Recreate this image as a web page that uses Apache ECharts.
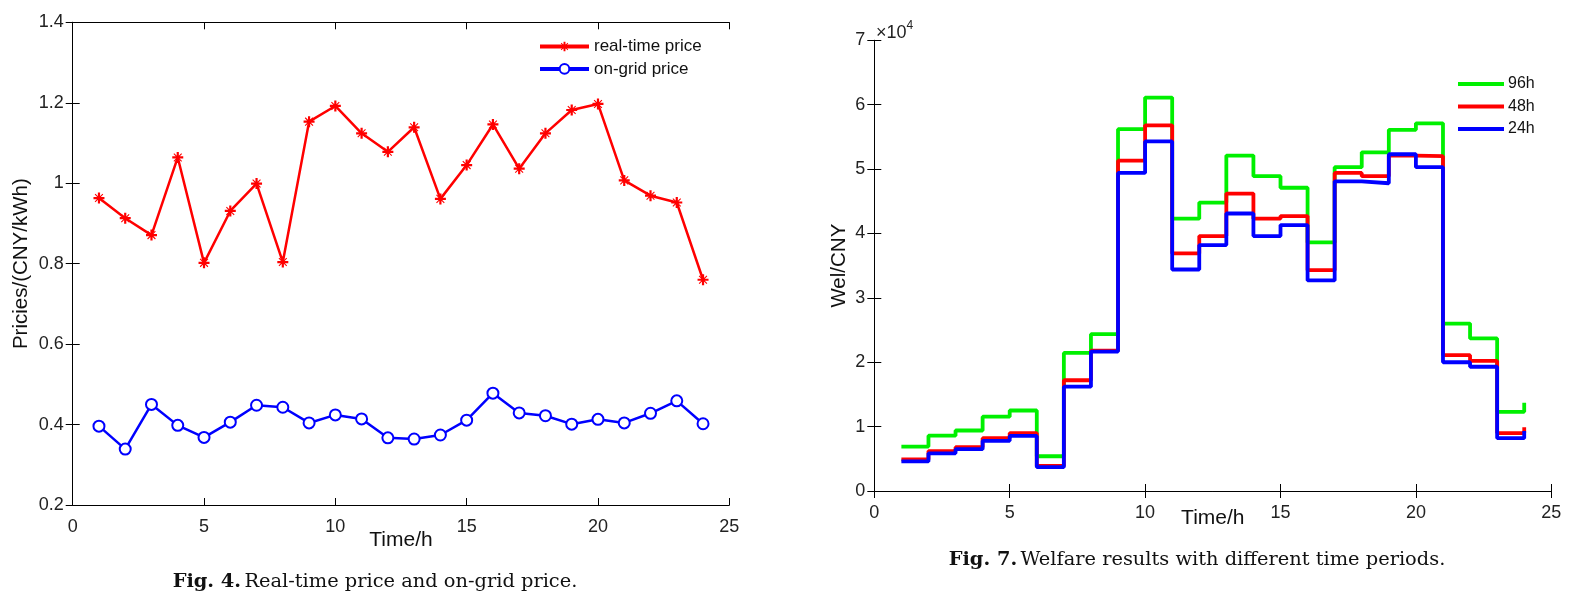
<!DOCTYPE html>
<html>
<head>
<meta charset="utf-8">
<script src="https://cdn.jsdelivr.net/npm/echarts@6/dist/echarts.min.js"></script>
<style>
html,body{margin:0;padding:0;background:#fff;}
#c{width:1584px;height:596px;}
</style>
</head>
<body>
<div id="c"></div>
<script>
// ---- data ----
const hours = [1,2,3,4,5,6,7,8,9,10,11,12,13,14,15,16,17,18,19,20,21,22,23,24];
const realTimePrice = [0.963,0.913,0.871,1.064,0.802,0.931,0.999,0.804,1.153,1.192,1.124,1.078,1.139,0.961,1.045,1.146,1.036,1.124,1.182,1.197,1.007,0.969,0.952,0.760];
const onGridPrice = [0.396,0.339,0.450,0.398,0.368,0.406,0.448,0.443,0.404,0.424,0.414,0.367,0.364,0.374,0.411,0.478,0.429,0.422,0.401,0.413,0.404,0.428,0.459,0.402];
const welfare96h = [6900,8600,9400,11550,12500,5400,21450,24350,56200,61100,42300,44800,52100,48900,47100,38600,50300,52600,56100,57100,26000,23700,12300,13700];
const welfare48h = [4900,6200,6800,8200,9000,3900,17200,21800,51300,56800,36900,39600,46200,42300,42700,34300,49400,48900,52100,52000,21100,20200,9000,9900];
const welfare24h = [4600,5850,6500,7800,8550,3700,16200,21650,49400,54300,34400,38200,43100,39600,41300,32700,48100,47800,52300,50300,20000,19300,8200,9300];
const priceTicks = ['0.2','0.4','0.6','0.8','1','1.2','1.4'];

const pair = (xs, ys) => xs.map((x, i) => [x, ys[i]]);
const FONT = "'Liberation Sans', Arial, sans-serif";
const SERIF = "'DejaVu Serif', 'Liberation Serif', serif";

const asterisk = 'path://M0 8L20 8L20 12L0 12Z M8 0L12 0L12 20L8 20Z M2.2 3.6L3.6 2.2L17.8 16.4L16.4 17.8Z M16.4 2.2L17.8 3.6L3.6 17.8L2.2 16.4Z';
const legendBar = 'path://M0 0H46V4H0Z';

const axisLine = () => ({show: true, lineStyle: {color: '#000', width: 1}});
const tickIn = () => ({show: true, inside: true, length: 7, lineStyle: {color: '#000', width: 1}});
const labelStyle = () => ({color: '#222', fontSize: 18, fontFamily: FONT});

function xAx(grid, pos, show, nameGap) {
  return {
    type: 'value', gridIndex: grid, position: pos, min: 0, max: 25, interval: 5,
    axisLine: axisLine(), axisTick: tickIn(), splitLine: {show: false},
    axisLabel: show ? Object.assign({margin: 13}, labelStyle()) : {show: false},
    name: show ? 'Time/h' : '', nameLocation: 'middle', nameGap: nameGap, nameMoveOverlap: false,
    nameTextStyle: {color: '#111', fontSize: 21, fontFamily: FONT}
  };
}

const option = {
  backgroundColor: '#fff',
  animation: false,
  grid: [
    {left: 72.7, top: 22.3, width: 656.6, height: 482.7},
    {left: 874.3, top: 40.3, width: 677, height: 450.7}
  ],
  xAxis: [
    xAx(0, 'bottom', true, 25),
    xAx(0, 'top', false, 0),
    xAx(1, 'bottom', true, 17),
    xAx(1, 'top', false, 0)
  ],
  yAxis: [
    {type: 'value', gridIndex: 0, position: 'left', min: 0.2, max: 1.4, interval: 0.2,
     axisLine: axisLine(), axisTick: tickIn(), splitLine: {show: false},
     axisLabel: Object.assign({margin: 9, formatter: (v) => priceTicks[Math.round((v - 0.2) / 0.2)]}, labelStyle()),
     name: 'Pricies/(CNY/kWh)', nameLocation: 'middle', nameGap: 41, nameMoveOverlap: false,
     nameTextStyle: {color: '#111', fontSize: 20.5, fontFamily: FONT}},
    {type: 'value', gridIndex: 0, position: 'right', min: 0.2, max: 1.4, interval: 0.2,
     axisLine: axisLine(), axisTick: tickIn(), splitLine: {show: false}, axisLabel: {show: false}},
    {type: 'value', gridIndex: 1, position: 'left', min: 0, max: 70000, interval: 10000,
     axisLine: axisLine(), axisTick: tickIn(), splitLine: {show: false},
     axisLabel: Object.assign({margin: 9, formatter: (v) => String(v / 10000)}, labelStyle()),
     name: 'Wel/CNY', nameLocation: 'middle', nameGap: 24, nameMoveOverlap: false,
     nameTextStyle: {color: '#111', fontSize: 20.5, fontFamily: FONT}},
    {type: 'value', gridIndex: 1, position: 'right', min: 0, max: 70000, interval: 10000,
     axisLine: axisLine(), axisTick: tickIn(), splitLine: {show: false}, axisLabel: {show: false}}
  ],
  legend: [
    {orient: 'vertical', left: 533, top: 33, itemWidth: 49, itemHeight: 12, itemGap: 5.4,
     data: ['real-time price', 'on-grid price'], lineStyle: {width: 4},
     textStyle: {color: '#111', fontSize: 17, fontFamily: FONT}},
    {orient: 'vertical', left: 1453, top: 71, itemWidth: 46, itemHeight: 4, itemGap: 6.5,
     data: [{name: '96h', icon: legendBar}, {name: '48h', icon: legendBar}, {name: '24h', icon: legendBar}],
     textStyle: {color: '#111', fontSize: 16, fontFamily: FONT, padding: [0, 0, 0, -1]}}
  ],
  series: [
    {name: 'real-time price', type: 'line', xAxisIndex: 0, yAxisIndex: 0,
     data: pair(hours, realTimePrice), symbol: asterisk, symbolSize: 11,
     lineStyle: {color: '#f00', width: 2.5}, itemStyle: {color: '#f00'}},
    {name: 'on-grid price', type: 'line', xAxisIndex: 0, yAxisIndex: 0,
     data: pair(hours, onGridPrice), symbol: 'emptyCircle', symbolSize: 11,
     lineStyle: {color: '#00f', width: 2.5}, itemStyle: {color: '#00f', borderWidth: 2.4}},
    {name: '96h', type: 'line', step: 'end', xAxisIndex: 2, yAxisIndex: 2,
     data: pair(hours, welfare96h), symbol: 'none',
     lineStyle: {color: '#00f000', width: 3.8}, itemStyle: {color: '#00f000'}},
    {name: '48h', type: 'line', step: 'end', xAxisIndex: 2, yAxisIndex: 2,
     data: pair(hours, welfare48h), symbol: 'none',
     lineStyle: {color: '#f00', width: 3.8}, itemStyle: {color: '#f00'}},
    {name: '24h', type: 'line', step: 'end', xAxisIndex: 2, yAxisIndex: 2,
     data: pair(hours, welfare24h), symbol: 'none',
     lineStyle: {color: '#00f', width: 3.8}, itemStyle: {color: '#00f'}}
  ],
  graphic: [
    {type: 'text', left: 876, top: 20, style: {
      text: '{a|×10}{b|4}', rich: {
        a: {fontSize: 18, fontFamily: FONT, fill: '#222', verticalAlign: 'bottom'},
        b: {fontSize: 12, fontFamily: FONT, fill: '#222', verticalAlign: 'top', padding: [0, 0, 10, 0]}
      }}},
    {type: 'text', x: 375, y: 582, style: {
      text: '{b|Fig. 4.} {n|Real-time price and on-grid price.}', align: 'center', verticalAlign: 'middle',
      rich: {b: {fontWeight: 'bold', fontSize: 19.4, fontFamily: SERIF, fill: '#111'},
             n: {fontSize: 19.4, fontFamily: SERIF, fill: '#111'}}}},
    {type: 'text', x: 1197, y: 560, style: {
      text: '{b|Fig. 7.} {n|Welfare results with different time periods.}', align: 'center', verticalAlign: 'middle',
      rich: {b: {fontWeight: 'bold', fontSize: 19.4, fontFamily: SERIF, fill: '#111'},
             n: {fontSize: 19.4, fontFamily: SERIF, fill: '#111'}}}}
  ]
};

const chart = echarts.init(document.getElementById('c'), null, {renderer: 'canvas'});
chart.setOption(option);
</script>
</body>
</html>
